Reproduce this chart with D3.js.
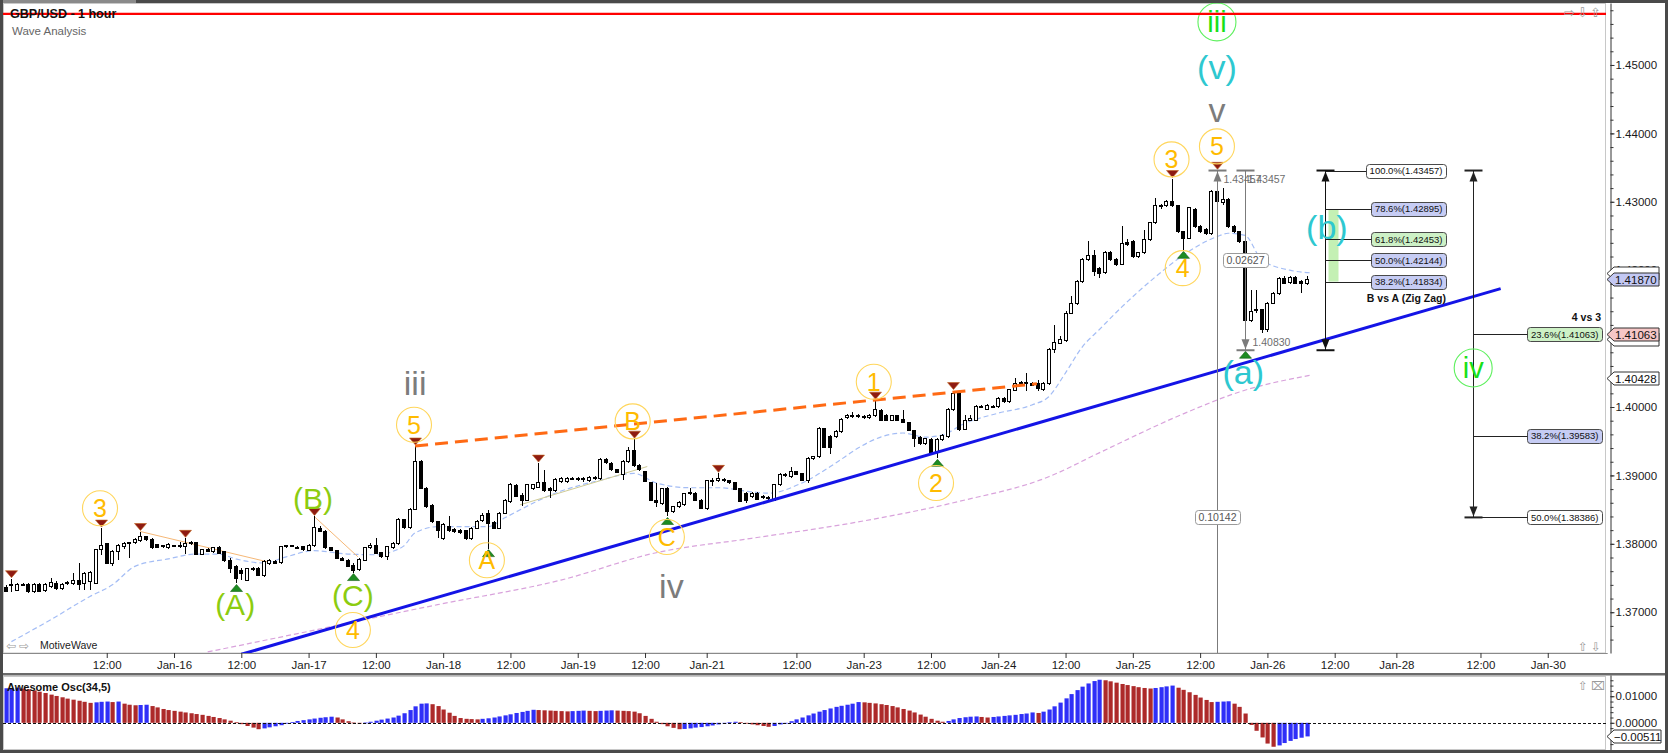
<html>
<head>
	<meta charset="utf-8">
	<title>GBP/USD - 1 hour</title>
	<style>
		body { margin:0; background:#fff; }
		svg text { font-family: "Liberation Sans", Arial, sans-serif; }
	</style>
	<script src="https://d3js.org/d3.v7.min.js" charset="utf-8"></script>
</head>
<body>
<script type="text/javascript">

/************** data ************************************/
// hourly bars, slot -30 is the first candle on the left
var firstSlot = -30;
// [open, high, low, close]
var candles = [
[1.3736,1.3740,1.3730,1.3731],[1.3740,1.3749,1.3729,1.3739],[1.3732,1.3742,1.3731,1.3741],[1.3741,1.3742,1.3739,1.3740],
[1.3741,1.3742,1.3728,1.3730],[1.3730,1.3743,1.3728,1.3741],[1.3741,1.3742,1.3730,1.3731],[1.3732,1.3743,1.3730,1.3740],
[1.3737,1.3750,1.3735,1.3743],[1.3742,1.3745,1.3732,1.3734],[1.3734,1.3742,1.3732,1.3741],[1.3742,1.3745,1.3740,1.3743],
[1.3742,1.3757,1.3740,1.3747],[1.3747,1.3772,1.3733,1.3741],[1.3742,1.3759,1.3732,1.3757],[1.3745,1.3760,1.3732,1.3758],
[1.3742,1.3793,1.3741,1.3792],[1.3791,1.3823,1.3784,1.3798],[1.3800,1.3801,1.3770,1.3771],[1.3771,1.3791,1.3767,1.3789],
[1.3789,1.3800,1.3776,1.3798],[1.3796,1.3803,1.3792,1.3801],[1.3802,1.3803,1.3779,1.3801],[1.3802,1.3808,1.3800,1.3806],
[1.3805,1.3818,1.3802,1.3811],[1.3810,1.3812,1.3804,1.3806],[1.3807,1.3808,1.3793,1.3794],[1.3799,1.3800,1.3794,1.3795],
[1.3797,1.3799,1.3794,1.3796],[1.3795,1.3801,1.3793,1.3799],[1.3797,1.3799,1.3795,1.3797],[1.3797,1.3803,1.3794,1.3796],
[1.3796,1.3808,1.3785,1.3801],[1.3801,1.3804,1.3799,1.3802],[1.3802,1.3803,1.3783,1.3784],[1.3784,1.3793,1.3783,1.3792],
[1.3792,1.3794,1.3788,1.3789],[1.3789,1.3795,1.3787,1.3794],[1.3794,1.3797,1.3785,1.3786],[1.3789,1.3790,1.3774,1.3776],
[1.3776,1.3779,1.3757,1.3764],[1.3767,1.3769,1.3742,1.3750],[1.3761,1.3764,1.3747,1.3757],[1.3747,1.3765,1.3745,1.3764],
[1.3764,1.3766,1.3760,1.3762],[1.3764,1.3766,1.3753,1.3754],[1.3754,1.3776,1.3752,1.3774],[1.3771,1.3778,1.3769,1.3776],
[1.3774,1.3776,1.3770,1.3771],[1.3772,1.3797,1.3771,1.3796],[1.3796,1.3798,1.3794,1.3797],[1.3797,1.3799,1.3795,1.3796],
[1.3795,1.3797,1.3793,1.3795],[1.3796,1.3797,1.3790,1.3791],[1.3790,1.3800,1.3789,1.3798],[1.3797,1.3840,1.3796,1.3824],
[1.3823,1.3826,1.3817,1.3818],[1.3818,1.3820,1.3793,1.3794],[1.3794,1.3796,1.3789,1.3790],[1.3790,1.3791,1.3778,1.3779],
[1.3779,1.3781,1.3775,1.3776],[1.3776,1.3778,1.3766,1.3767],[1.3768,1.3772,1.3758,1.3761],[1.3762,1.3779,1.3760,1.3777],
[1.3776,1.3796,1.3775,1.3794],[1.3794,1.3801,1.3792,1.3798],[1.3797,1.3808,1.3785,1.3786],[1.3787,1.3788,1.3780,1.3781],
[1.3781,1.3797,1.3777,1.3796],[1.3795,1.3802,1.3793,1.3800],[1.3800,1.3838,1.3798,1.3836],[1.3835,1.3837,1.3822,1.3824],
[1.3824,1.3852,1.3822,1.3850],[1.3850,1.3943,1.3849,1.3920],[1.3920,1.3922,1.3880,1.3881],[1.3881,1.3883,1.3853,1.3854],
[1.3856,1.3858,1.3831,1.3832],[1.3832,1.3834,1.3808,1.3820],[1.3808,1.3830,1.3806,1.3828],[1.3825,1.3840,1.3818,1.3820],
[1.3821,1.3823,1.3816,1.3818],[1.3820,1.3822,1.3815,1.3816],[1.3819,1.3820,1.3806,1.3808],[1.3808,1.3825,1.3806,1.3823],
[1.3823,1.3835,1.3821,1.3833],[1.3834,1.3845,1.3832,1.3842],[1.3845,1.3850,1.3793,1.3830],[1.3831,1.3833,1.3821,1.3823],
[1.3823,1.3846,1.3821,1.3845],[1.3845,1.3865,1.3843,1.3863],[1.3862,1.3889,1.3860,1.3886],[1.3885,1.3888,1.3868,1.3869],
[1.3871,1.3874,1.3855,1.3864],[1.3864,1.3888,1.3862,1.3886],[1.3881,1.3888,1.3879,1.3886],[1.3882,1.3918,1.3881,1.3889],
[1.3889,1.3908,1.3876,1.3878],[1.3881,1.3883,1.3867,1.3878],[1.3878,1.3896,1.3876,1.3894],[1.3891,1.3898,1.3889,1.3896],
[1.3891,1.3898,1.3889,1.3896],[1.3895,1.3898,1.3893,1.3895],[1.3895,1.3897,1.3892,1.3894],[1.3894,1.3897,1.3891,1.3895],
[1.3893,1.3899,1.3891,1.3897],[1.3897,1.3899,1.3894,1.3896],[1.3896,1.3925,1.3894,1.3923],[1.3923,1.3925,1.3917,1.3919],
[1.3918,1.3919,1.3907,1.3908],[1.3908,1.3910,1.3903,1.3904],[1.3901,1.3922,1.3893,1.3920],[1.3920,1.3942,1.3918,1.3937],
[1.3937,1.3953,1.3913,1.3915],[1.3914,1.3916,1.3907,1.3908],[1.3906,1.3907,1.3890,1.3891],[1.3889,1.3891,1.3863,1.3864],
[1.3864,1.3889,1.3854,1.3860],[1.3859,1.3882,1.3857,1.3881],[1.3881,1.3883,1.3840,1.3847],[1.3847,1.3856,1.3845,1.3854],
[1.3854,1.3862,1.3852,1.3860],[1.3858,1.3875,1.3856,1.3873],[1.3874,1.3881,1.3871,1.3875],[1.3874,1.3876,1.3863,1.3864],
[1.3864,1.3866,1.3851,1.3852],[1.3852,1.3893,1.3850,1.3892],[1.3892,1.3896,1.3884,1.3893],[1.3893,1.3903,1.3891,1.3895],
[1.3894,1.3896,1.3890,1.3892],[1.3892,1.3894,1.3888,1.3889],[1.3889,1.3890,1.3878,1.3879],[1.3881,1.3882,1.3861,1.3862],
[1.3874,1.3876,1.3859,1.3864],[1.3869,1.3876,1.3867,1.3874],[1.3874,1.3876,1.3864,1.3865],[1.3869,1.3871,1.3866,1.3868],
[1.3868,1.3870,1.3864,1.3867],[1.3864,1.3888,1.3862,1.3886],[1.3886,1.3903,1.3884,1.3901],[1.3901,1.3903,1.3898,1.3900],
[1.3898,1.3913,1.3896,1.3906],[1.3906,1.3907,1.3900,1.3901],[1.3903,1.3904,1.3892,1.3893],[1.3893,1.3927,1.3889,1.3925],
[1.3924,1.3929,1.3922,1.3927],[1.3927,1.3971,1.3925,1.3969],[1.3969,1.3970,1.3940,1.3941],[1.3957,1.3959,1.3932,1.3941],
[1.3957,1.3966,1.3955,1.3964],[1.3964,1.3984,1.3962,1.3982],[1.3985,1.3990,1.3983,1.3988],[1.3987,1.3992,1.3984,1.3987],
[1.3987,1.3990,1.3984,1.3986],[1.3986,1.3988,1.3983,1.3985],[1.3984,1.3990,1.3982,1.3988],[1.3988,1.4010,1.3986,1.3996],
[1.3995,1.3997,1.3980,1.3981],[1.3988,1.3990,1.3980,1.3981],[1.3981,1.3989,1.3979,1.3987],[1.3987,1.3989,1.3980,1.3981],
[1.3982,1.3996,1.3976,1.3977],[1.3977,1.3978,1.3965,1.3966],[1.3966,1.3967,1.3942,1.3954],[1.3956,1.3957,1.3945,1.3947],
[1.3947,1.3955,1.3945,1.3954],[1.3953,1.3955,1.3931,1.3933],[1.3933,1.3955,1.3925,1.3953],[1.3952,1.3960,1.3950,1.3958],
[1.3957,1.3998,1.3955,1.3996],[1.3996,1.4024,1.3994,1.4020],[1.4020,1.4022,1.3965,1.3967],[1.3967,1.3988,1.3966,1.3981],
[1.3981,1.3988,1.3979,1.3983],[1.3981,1.4003,1.3980,1.4001],[1.4001,1.4003,1.3998,1.4000],[1.3997,1.4004,1.3995,1.4002],
[1.4001,1.4003,1.3998,1.4001],[1.4001,1.4015,1.3999,1.4013],[1.4013,1.4015,1.4006,1.4008],[1.4008,1.4027,1.4006,1.4025],
[1.4024,1.4042,1.4023,1.4035],[1.4035,1.4038,1.4033,1.4036],[1.4036,1.4049,1.4023,1.4035],[1.4034,1.4036,1.4030,1.4032],
[1.4034,1.4040,1.4024,1.4027],[1.4026,1.4036,1.4024,1.4034],[1.4034,1.4086,1.4032,1.4084],[1.4084,1.4120,1.4079,1.4094],
[1.4093,1.4104,1.4092,1.4098],[1.4097,1.4140,1.4095,1.4137],[1.4137,1.4162,1.4136,1.4152],[1.4151,1.4185,1.4149,1.4183],
[1.4183,1.4218,1.4181,1.4216],[1.4215,1.4242,1.4213,1.4222],[1.4222,1.4229,1.4192,1.4198],[1.4203,1.4205,1.4188,1.4195],
[1.4196,1.4228,1.4194,1.4226],[1.4226,1.4228,1.4214,1.4216],[1.4216,1.4218,1.4206,1.4208],[1.4209,1.4264,1.4207,1.4239],
[1.4240,1.4245,1.4236,1.4238],[1.4242,1.4244,1.4218,1.4220],[1.4220,1.4227,1.4218,1.4226],[1.4226,1.4259,1.4224,1.4245],
[1.4245,1.4271,1.4243,1.4269],[1.4269,1.4305,1.4267,1.4294],[1.4294,1.4297,1.4290,1.4293],[1.4294,1.4302,1.4292,1.4300],
[1.4300,1.4334,1.4293,1.4294],[1.4294,1.4296,1.4254,1.4256],[1.4256,1.4258,1.4229,1.4247],[1.4247,1.4293,1.4245,1.4291],
[1.4288,1.4291,1.4262,1.4264],[1.4264,1.4266,1.4255,1.4256],[1.4259,1.4261,1.4252,1.4254],[1.4254,1.4317,1.4252,1.4315],
[1.4315,1.4346,1.4298,1.4300],[1.4299,1.4320,1.4296,1.4303],[1.4303,1.4305,1.4262,1.4264],[1.4264,1.4266,1.4255,1.4256],
[1.4256,1.4258,1.4240,1.4242],[1.4242,1.4244,1.4083,1.4127],[1.4127,1.4171,1.4125,1.4140],[1.4142,1.4171,1.4138,1.4141],
[1.4142,1.4144,1.4108,1.4113],[1.4113,1.4154,1.4110,1.4152],[1.4152,1.4168,1.4150,1.4166],[1.4166,1.4190,1.4164,1.4188],
[1.4188,1.4192,1.4180,1.4181],[1.4182,1.4191,1.4180,1.4189],[1.4189,1.4192,1.4180,1.4181],[1.4184,1.4186,1.4166,1.4181],
[1.4181,1.4192,1.4179,1.4187]
];

// Awesome Oscillator (34,5), one value per bar, in units of 0.001
var aoValues = [
13.0,13.1,13.2,12.9,12.6,12.2,11.7,11.2,10.6,10.1,9.6,9.1,8.7,8.3,7.9,7.5,7.7,7.9,8.0,7.8,
8.0,7.2,6.8,6.6,6.7,6.8,6.3,5.8,5.2,4.8,4.5,4.2,3.9,3.6,3.3,3.0,2.6,2.2,1.8,1.3,
0.8,0.2,-0.5,-1.2,-1.8,-2.4,-2.1,-1.7,-1.3,-0.9,-0.3,0.3,0.7,1.0,1.3,1.6,1.9,2.1,2.3,2.0,
1.3,0.6,0.1,-0.2,0.1,0.4,0.8,1.2,1.6,2.0,2.7,3.6,4.8,6.2,7.2,7.3,7.0,6.3,5.0,3.8,
2.6,1.8,1.5,1.4,1.3,1.5,1.7,2.0,2.4,2.8,3.2,3.7,4.1,4.5,4.9,4.8,4.7,4.6,4.5,4.4,
4.3,4.4,4.5,4.6,4.5,4.4,4.5,4.6,4.7,4.6,4.5,4.4,4.2,3.6,2.6,1.5,0.4,-0.5,-1.3,-1.9,
-2.4,-2.3,-2.1,-1.8,-1.6,-1.3,-1.0,-0.6,-0.2,0.2,0.4,0.2,-0.2,-0.6,-0.9,-1.2,-1.5,-1.2,-0.6,0.0,
0.6,1.3,2.0,2.8,3.5,4.2,4.8,5.4,6.0,6.4,6.8,7.2,7.8,7.7,7.5,7.3,7.0,6.7,6.3,5.8,
5.2,4.6,3.9,3.1,2.3,1.5,0.8,0.4,0.7,1.3,1.8,2.1,2.3,2.4,2.2,2.0,2.2,2.4,2.6,2.8,
3.0,3.3,3.5,3.9,3.7,4.2,5.0,6.2,7.6,9.2,10.8,12.3,13.6,14.8,15.7,16.2,16.0,15.6,15.1,14.6,
14.2,13.8,13.4,13.1,12.9,13.1,13.4,13.7,14.0,13.2,12.4,11.5,10.5,9.5,8.6,7.8,7.9,8.0,8.1,7.2,
6.0,3.5,-0.8,-3.0,-5.5,-7.8,-9.0,-8.5,-7.6,-6.8,-6.1,-5.6,-5.11
];

// moving averages read at a few bars: [slot, price]
var maFast = [[-29,1.3657],[-22,1.3689],[-15,1.3723],[-11,1.3740],[-7,1.3767],[-1,1.3778],[4,1.3785],[8,1.3785],
  [11,1.3778],[16,1.3772],[20,1.3781],[25,1.3790],[31,1.3785],[37,1.3784],[39,1.3789],[41,1.3797],[43,1.3816],
  [47,1.3825],[50,1.3825],[56,1.3825],[59,1.3838],[68,1.3874],[76,1.3893],[82,1.3903],[86,1.3889],[92,1.3882],
  [97,1.3882],[103,1.3876],[106,1.3874],[112,1.3889],[118,1.3918],[122,1.3940],[126,1.3956],[130,1.3962],
  [134,1.3956],[137,1.3959],[141,1.3976],[147,1.3991],[153,1.4003],[156,1.4015],[159,1.4050],[162,1.4088],
  [165,1.4113],[169,1.4146],[175,1.4190],[180,1.4222],[186,1.4249],[188,1.4254],[191,1.4251],[194,1.4215],
  [199,1.4200],[203,1.4196]];
var maSlow = [[6,1.3642],[18,1.3662],[47,1.3711],[69,1.3747],[86,1.3787],[103,1.3808],[122,1.3832],
  [140,1.3862],[156,1.3898],[165,1.3933],[180,1.3990],[190,1.4022],[203,1.4047]];

// time axis
var xTickSlots  = [-12,0,12,24,36,48,60,72,84,95,111,123,135,147,159,171,183,195,207,218,233,245];
var xTickLabels = ["12:00","Jan-16","12:00","Jan-17","12:00","Jan-18","12:00","Jan-19","12:00","Jan-21","12:00",
                   "Jan-23","12:00","Jan-24","12:00","Jan-25","12:00","Jan-26","12:00","Jan-28","12:00","Jan-30"];
var priceTicks = [1.37,1.38,1.39,1.40,1.41,1.42,1.43,1.44,1.45];
var oscTicks = [0, 0.01];

// swing markers
var highPivots = [-29,-13,-6,2,25,43,65,82,97,125,139,178,186];
var lowPivots  = [11,32,56,88,136,180,191];

// drawn lines
var redLevel = 1.45746;
var trendSlots = [12, 236.6],  trendPrices = [1.36385, 1.41730];
var orangeSlots = [43, 153.9], orangePrices = [1.3943, 1.4034];
var thinWaveLines = [[[-6,1.3818],[17,1.3773]], [[25,1.3840],[32.8,1.3781]]];
var thinOliveLine = [[61.7,1.3857],[84.4,1.3913]];

// wave labels
var circleText  = ["3","5","4","A","B","C","1","2","3","4","5"];
var circleSlot  = [-13.2,42.8,31.9,55.8,81.8,87.9,124.8,135.9,177.9,179.9,186];
var circlePrice = [1.3852,1.3974,1.3674,1.3776,1.3979,1.3810,1.4037,1.3889,1.4362,1.4203,1.4381];
var abcText  = ["(A)","(B)","(C)"];
var abcSlot  = [10.9,24.8,31.9];
var abcPrice = [1.3712,1.3867,1.3725];
var romanText  = ["iii","iv","v"];
var romanSlot  = [43,88.7,186];
var romanPrice = [1.4035,1.3738,1.4434];
var cyanText  = ["(v)","(a)","(b)"];
var cyanSlot  = [186,190.7,205.6];
var cyanPrice = [1.4498,1.4051,1.4264];
var greenRingText  = ["iii","iv"];
var greenRingSlot  = [186,231.7];
var greenRingPrice = [1.4563,1.4057];

// measurements
var swingHigh = 1.43457, aLow = 1.40830;
var fibBLevels = [1.43457,1.42895,1.42453,1.42144,1.41834];
var fibBText   = ["100.0%(1.43457)","78.6%(1.42895)","61.8%(1.42453)","50.0%(1.42144)","38.2%(1.41834)"];
var fibBFill   = ["#ffffff","#c6ccf4","#cdf1c6","#c6ccf4","#c6ccf4"];
var fib4Levels = [1.41063,1.39583,1.38386];
var fib4Text   = ["23.6%(1.41063)","38.2%(1.39583)","50.0%(1.38386)"];
var fib4Fill   = ["#cdf1c6","#c6ccf4","#ffffff"];

// price markers on the axis; the first two sit behind the others
var markerPrices = [1.41963,1.40990,1.41870,1.41063,1.40428];
var markerFill   = ["#ffffff","#ffffff","#c3c8f3","#f6c6c6","#ffffff"];
var markerHidden = [true,true,false,false,false];
var aoLast = -0.00511;

/************** layout *****************/
var W = 1668, H = 753;
var axisX = 1610.5;
var svg = d3.select("body").append("svg")
	.attr("width", W).attr("height", H)
	.style("display", "block");
svg.append("rect").attr("width", W).attr("height", H).attr("fill", "#fff");

var x  = d3.scaleLinear().domain([-31, 255.6]).range([0.2, 1607.2]);
var y  = d3.scaleLinear().domain([1.36404, 1.45906]).range([653, 3]);
var yo = d3.scaleLinear().domain([-0.01022, 0.01798]).range([750, 675]);

svg.append("clipPath").attr("id", "plotClip")
	.append("rect").attr("x", 3).attr("y", 3).attr("width", 1603).attr("height", 650);
svg.append("clipPath").attr("id", "oscClip")
	.append("rect").attr("x", 3).attr("y", 676).attr("width", 1603).attr("height", 74);

// frames
svg.append("rect").attr("x", 3.5).attr("y", 3.5).attr("width", 1602).attr("height", 649.5)
	.attr("fill", "none").attr("stroke", "#c8c8c8");
svg.append("rect").attr("x", 0).attr("y", 673).attr("width", W).attr("height", 2.5).attr("fill", "#6a6a6a");

var plot = svg.append("g").attr("clip-path", "url(#plotClip)");

function line2(pts) {
	return d3.line().x(function(d){ return x(d[0]); }).y(function(d){ return y(d[1]); })(pts);
}

// moving averages
plot.append("path").attr("d", d3.line().curve(d3.curveMonotoneX)
		.x(function(d){ return x(d[0]); }).y(function(d){ return y(d[1]); })(maSlow))
	.attr("fill", "none").attr("stroke", "#d9a3dc").attr("stroke-width", 1.2).attr("stroke-dasharray", "5,3");
plot.append("path").attr("d", d3.line().curve(d3.curveMonotoneX)
		.x(function(d){ return x(d[0]); }).y(function(d){ return y(d[1]); })(maFast))
	.attr("fill", "none").attr("stroke", "#a4bdf5").attr("stroke-width", 1.2).attr("stroke-dasharray", "5,3");

// thin wave lines
thinWaveLines.forEach(function(l){
	plot.append("path").attr("d", line2(l)).attr("stroke", "#f6b877").attr("stroke-width", 1).attr("fill", "none");
});
plot.append("path").attr("d", line2(thinOliveLine)).attr("stroke", "#cfcb95").attr("stroke-width", 1).attr("fill", "none");

// candles
function cx(s) { return Math.round(x(s)) + 0.5; }
var cg = plot.append("g").attr("shape-rendering", "crispEdges");
cg.selectAll("line").data(candles).enter().append("line")
	.attr("x1", function(d,i){ return cx(firstSlot + i); })
	.attr("x2", function(d,i){ return cx(firstSlot + i); })
	.attr("y1", function(d){ return y(d[1]); })
	.attr("y2", function(d){ return y(d[2]); })
	.attr("stroke", "#000");
cg.selectAll("rect").data(candles).enter().append("rect")
	.attr("x", function(d,i){ return cx(firstSlot + i) - 2; })
	.attr("width", 3)
	.attr("y", function(d){ return y(Math.max(d[0], d[3])); })
	.attr("height", function(d){ return Math.max(1, Math.abs(y(d[0]) - y(d[3]))); })
	.attr("fill", function(d){ return d[3] >= d[0] ? "#fff" : "#000"; })
	.attr("stroke", "#000");

// pivot markers
highPivots.forEach(function(s){
	var c = candles[s - firstSlot], px = cx(s), py = y(c[1]) - 1;
	plot.append("path").attr("d", "M" + px + "," + py + "L" + (px-6) + "," + (py-7) + "L" + (px+6) + "," + (py-7) + "Z")
		.attr("fill", "#8e1b12").attr("stroke", "#c0601a").attr("stroke-width", 0.6);
});
lowPivots.forEach(function(s){
	var c = candles[s - firstSlot], px = cx(s), py = y(c[2]) + 1;
	plot.append("path").attr("d", "M" + px + "," + py + "L" + (px-6) + "," + (py+7) + "L" + (px+6) + "," + (py+7) + "Z")
		.attr("fill", "#1e8c22").attr("stroke", "#145f17").attr("stroke-width", 0.6);
});

// trend lines
plot.append("path").attr("d", line2([[trendSlots[0], trendPrices[0]], [trendSlots[1], trendPrices[1]]]))
	.attr("stroke", "#1414e6").attr("stroke-width", 3).attr("fill", "none");
plot.append("path").attr("d", line2([[orangeSlots[0], orangePrices[0]], [orangeSlots[1], orangePrices[1]]]))
	.attr("stroke", "#ff6a14").attr("stroke-width", 3).attr("stroke-dasharray", "13,7").attr("fill", "none");

// measure lines
function measure(s, pTop, pBot, color, upArrow, downArrow, bottomCap) {
	var px = Math.round(x(s)) + 0.5, t = y(pTop), b = y(pBot);
	var g = plot.append("g");
	g.append("line").attr("x1", px).attr("x2", px).attr("y1", t).attr("y2", b).attr("stroke", color);
	g.append("line").attr("x1", px-9).attr("x2", px+9).attr("y1", t).attr("y2", t).attr("stroke", color).attr("stroke-width", 2);
	if (bottomCap) g.append("line").attr("x1", px-9).attr("x2", px+9).attr("y1", b).attr("y2", b).attr("stroke", color).attr("stroke-width", 2);
	if (upArrow) g.append("path").attr("d", "M" + px + "," + (t+1) + "L" + (px-4) + "," + (t+11) + "L" + (px+4) + "," + (t+11) + "Z").attr("fill", color);
	if (downArrow) g.append("path").attr("d", "M" + px + "," + (b-1) + "L" + (px-4) + "," + (b-11) + "L" + (px+4) + "," + (b-11) + "Z").attr("fill", color);
	return px;
}
function boxText(g, xPos, yc, txt, fill, stroke, color, size, anchor) {
	var t = g.append("text").attr("y", yc).attr("dy", "0.35em").attr("font-size", size).attr("fill", color).text(txt);
	var w = t.node().getComputedTextLength();
	var left = anchor === "end" ? xPos - w - 7 : (anchor === "middle" ? xPos - w/2 - 3.5 : xPos);
	t.attr("x", left + 3.5);
	g.insert("rect", "text").attr("x", Math.round(left) + 0.5).attr("y", Math.round(yc - 7) + 0.5)
		.attr("width", Math.round(w + 7)).attr("height", 14).attr("rx", 3)
		.attr("fill", fill).attr("stroke", stroke);
	return left;
}

var gx1 = measure(186, swingHigh, 1.3604, "#7b7b7b", true, false, true);
var gx2 = measure(191, swingHigh, aLow, "#7b7b7b", false, true, true);
var lg = plot.append("g");
boxText(lg.append("g"), gx1, y(1.38386), "0.10142", "#fff", "#9a9a9a", "#555", 10.5, "middle");
boxText(lg.append("g"), gx2, y(1.42144), "0.02627", "#fff", "#9a9a9a", "#555", 10.5, "middle");
lg.append("text").attr("x", gx1 + 6).attr("y", y(swingHigh) + 12).attr("font-size", 10.5).attr("fill", "#6e6e6e").text("1.43457");
lg.append("text").attr("x", gx2 + 2).attr("y", y(swingHigh) + 12).attr("font-size", 10.5).attr("fill", "#6e6e6e").text("1.43457");
lg.append("text").attr("x", gx2 + 7).attr("y", y(aLow) - 4).attr("font-size", 10.5).attr("fill", "#6e6e6e").text("1.40830");

// (b) retracement box
var gx3 = Math.round(x(205.3)) + 0.5;
plot.append("rect").attr("x", gx3 + 3).attr("y", y(fibBLevels[1])).attr("width", 10)
	.attr("height", y(fibBLevels[4]) - y(fibBLevels[1])).attr("fill", "#c4f0b4");
measure(205.3, swingHigh, aLow, "#111", true, true, true);
fibBLevels.forEach(function(p, i){
	var g = plot.append("g");
	var left = boxText(g, 1446, y(p), fibBText[i], fibBFill[i], "#4a4a4a", "#111", 9.5, "end");
	g.append("line").attr("x1", gx3).attr("x2", left).attr("y1", Math.round(y(p)) + 0.5).attr("y2", Math.round(y(p)) + 0.5).attr("stroke", "#222");
});
plot.append("text").attr("x", 1446).attr("y", y(fibBLevels[4]) + 20).attr("text-anchor", "end")
	.attr("font-size", 10.5).attr("font-weight", "bold").attr("fill", "#111").text("B vs A (Zig Zag)");

// 4 vs 3 box
var gx4 = measure(231.7, swingHigh, fib4Levels[2], "#222", true, true, true);
fib4Levels.forEach(function(p, i){
	var g = plot.append("g");
	var left = boxText(g, 1602, y(p), fib4Text[i], fib4Fill[i], "#4a4a4a", "#111", 9.5, "end");
	g.append("line").attr("x1", gx4).attr("x2", left).attr("y1", Math.round(y(p)) + 0.5).attr("y2", Math.round(y(p)) + 0.5).attr("stroke", "#222");
});
plot.append("text").attr("x", 1601).attr("y", y(fib4Levels[0]) - 13).attr("text-anchor", "end")
	.attr("font-size", 10.5).attr("font-weight", "bold").attr("fill", "#111").text("4 vs 3");

// wave labels
var wl = plot.append("g").attr("text-anchor", "middle");
circleText.forEach(function(t, i){
	wl.append("circle").attr("cx", x(circleSlot[i])).attr("cy", y(circlePrice[i])).attr("r", 17.5)
		.attr("fill", "none").attr("stroke", "#ffd65c").attr("stroke-width", 1.1);
	wl.append("text").attr("x", x(circleSlot[i])).attr("y", y(circlePrice[i])).attr("dy", "0.36em")
		.attr("font-size", 25).attr("fill", "#ffbb00").text(t);
});
abcText.forEach(function(t, i){
	wl.append("text").attr("x", x(abcSlot[i])).attr("y", y(abcPrice[i])).attr("dy", "0.36em")
		.attr("font-size", 30).attr("fill", "#8ccc10").text(t);
});
romanText.forEach(function(t, i){
	wl.append("text").attr("x", x(romanSlot[i])).attr("y", y(romanPrice[i])).attr("dy", "0.36em")
		.attr("font-size", 34).attr("fill", "#7c7c7c").text(t);
});
cyanText.forEach(function(t, i){
	wl.append("text").attr("x", x(cyanSlot[i])).attr("y", y(cyanPrice[i])).attr("dy", "0.36em")
		.attr("font-size", 34).attr("fill", "#2ec8d0").text(t);
});
greenRingText.forEach(function(t, i){
	wl.append("circle").attr("cx", x(greenRingSlot[i])).attr("cy", y(greenRingPrice[i])).attr("r", 19)
		.attr("fill", "none").attr("stroke", "#5ef05e").attr("stroke-width", 1.1);
	wl.append("text").attr("x", x(greenRingSlot[i])).attr("y", y(greenRingPrice[i])).attr("dy", "0.36em")
		.attr("font-size", 29).attr("fill", "#18e018").text(t);
});

// titles, with the red level drawn across them
svg.append("text").attr("x", 10).attr("y", 18).attr("font-size", 12.5).attr("font-weight", "bold").attr("fill", "#111").text("GBP/USD - 1 hour");
plot.append("line").attr("x1", 3).attr("x2", 1606).attr("y1", y(redLevel)).attr("y2", y(redLevel))
	.attr("stroke", "#ff0000").attr("stroke-width", 2.2);
svg.append("text").attr("x", 12).attr("y", 35).attr("font-size", 11.5).attr("fill", "#666").text("Wave Analysis");

// small window icons
function icons(list, x0, yb, size) {
	list.forEach(function(c, i){
		svg.append("text").attr("x", x0 + i*13).attr("y", yb).attr("font-size", size)
			.style("font-family", "DejaVu Sans").attr("fill", "#9a9a9a").text(c);
	});
}
icons(["\u21e8","\u21e9","\u21e7"], 1564, 17, 13);
icons(["\u21e7","\u21e9"], 1578, 651, 12);
icons(["\u21e7","\u2327"], 1578, 690, 12);
icons(["\u21e6","\u21e8"], 6, 650, 12);
svg.append("text").attr("x", 40).attr("y", 649).attr("font-size", 10.5).attr("fill", "#222").text("MotiveWave");

/************** axes *****************/
function styleAxis(g, size) {
	g.attr("font-size", size).attr("font-family", "Liberation Sans, Arial, sans-serif").attr("color", "#333");
	g.selectAll("text").attr("fill", "#1a1a1a");
}
var xAxis = d3.axisBottom(x).tickValues(xTickSlots)
	.tickFormat(function(d, i){ return xTickLabels[i]; })
	.tickSize(5).tickSizeOuter(0);
var gX = svg.append("g").attr("transform", "translate(0,653)").call(xAxis);
styleAxis(gX, 11.5);
gX.select(".domain").attr("stroke", "#8a8a8a");

var yAxis = d3.axisRight(y).tickValues(priceTicks).tickFormat(d3.format(".5f"))
	.tickSize(4).tickPadding(1).tickSizeOuter(0);
var gY = svg.append("g").attr("transform", "translate(" + axisX + ",0)").call(yAxis);
styleAxis(gY, 11.5);
svg.append("g").attr("transform", "translate(" + axisX + ",0)")
	.call(d3.axisRight(y).tickValues(d3.range(1.366, 1.4585, 0.002)).tickFormat("").tickSize(3).tickSizeOuter(0))
	.attr("color", "#333").select(".domain").remove();

// price markers
markerPrices.forEach(function(p, i){
	var yc = Math.round(y(p)) + 0.5;
	svg.append("path").attr("d", "M1607," + yc + "L1614," + (yc-6.5) + "L1659," + (yc-6.5) + "L1659," + (yc+6.5) + "L1614," + (yc+6.5) + "Z")
		.attr("fill", markerFill[i]).attr("stroke", "#333");
	if (!markerHidden[i]) {
		svg.append("text").attr("x", 1615).attr("y", yc).attr("dy", "0.36em").attr("font-size", 11.5).attr("fill", "#111")
			.text(d3.format(".5f")(p));
	}
});

/************** awesome oscillator *****************/
var osc = svg.append("g").attr("clip-path", "url(#oscClip)");
osc.append("rect").attr("x", 3.5).attr("y", 676.5).attr("width", 1602).attr("height", 73)
	.attr("fill", "none").attr("stroke", "#c8c8c8");
osc.selectAll("rect.bar").data(aoValues).enter().append("rect").attr("class", "bar")
	.attr("x", function(d, i){ return Math.round(x(firstSlot + i)) - 1.5; })
	.attr("width", 4.2)
	.attr("y", function(d){ return Math.min(yo(d/1000), yo(0)); })
	.attr("height", function(d){ return Math.max(0.8, Math.abs(yo(d/1000) - yo(0))); })
	.attr("fill", function(d, i){ return (i === 0 || d >= aoValues[i-1]) ? "#2f2ff8" : "#ad2a2a"; });
osc.append("line").attr("x1", 3).attr("x2", 1606).attr("y1", Math.round(yo(0)) + 0.5).attr("y2", Math.round(yo(0)) + 0.5)
	.attr("stroke", "#111").attr("stroke-dasharray", "3,2");
svg.append("text").attr("x", 7).attr("y", 691).attr("font-size", 11).attr("font-weight", "bold").attr("fill", "#111").text("Awesome Osc(34,5)");

var gO = svg.append("g").attr("transform", "translate(" + axisX + ",0)")
	.call(d3.axisRight(yo).tickValues(oscTicks).tickFormat(d3.format(".5f")).tickSize(4).tickPadding(1).tickSizeOuter(0));
styleAxis(gO, 11.5);
svg.append("g").attr("transform", "translate(" + axisX + ",0)")
	.call(d3.axisRight(yo).tickValues(d3.range(-0.008, 0.0175, 0.002)).tickFormat("").tickSize(3).tickSizeOuter(0))
	.attr("color", "#333").select(".domain").remove();
var ya = Math.round(yo(aoLast)) + 0.5;
svg.append("path").attr("d", "M1607," + ya + "L1614," + (ya-6.5) + "L1661," + (ya-6.5) + "L1661," + (ya+6.5) + "L1614," + (ya+6.5) + "Z")
	.attr("fill", "#fff").attr("stroke", "#333");
svg.append("text").attr("x", 1614).attr("y", ya).attr("dy", "0.36em").attr("font-size", 11.5).attr("fill", "#111").text(d3.format(".5f")(aoLast));

// outer window border
svg.append("rect").attr("x", 0).attr("y", 0).attr("width", W).attr("height", 3).attr("fill", "#4a4a4a");
svg.append("rect").attr("x", 0).attr("y", 0).attr("width", 136).attr("height", 3).attr("fill", "#8a8a8a");
svg.append("rect").attr("x", 0).attr("y", 0).attr("width", 3).attr("height", H).attr("fill", "#4a4a4a");
svg.append("rect").attr("x", 0).attr("y", 750).attr("width", W).attr("height", 3).attr("fill", "#4a4a4a");
svg.append("rect").attr("x", 1665).attr("y", 0).attr("width", 3).attr("height", H).attr("fill", "#4a4a4a");

</script>
</body>
</html>
